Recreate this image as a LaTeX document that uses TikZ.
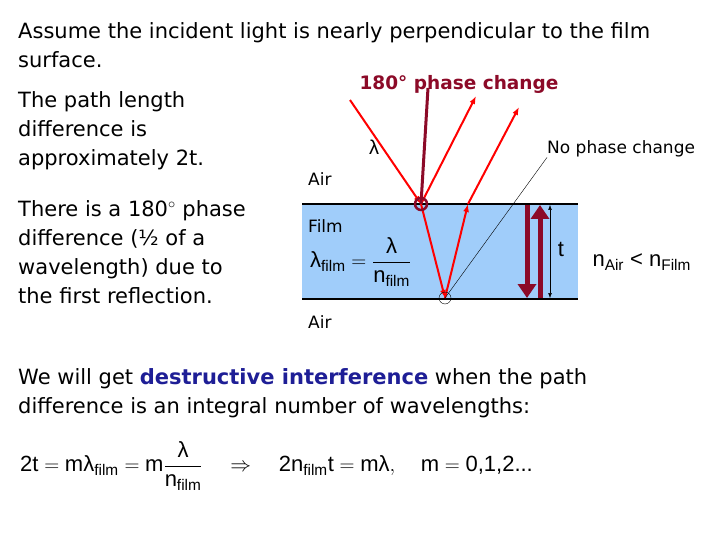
\documentclass[tikz,border=0pt]{standalone}
\usepackage{amsmath}
\usepackage{fontspec}
\setmainfont{DejaVu Sans}
\newfontfamily\arial{Liberation Sans}
\usetikzlibrary{arrows.meta}
\definecolor{dred}{RGB}{140,10,40}
\definecolor{film}{RGB}{160,205,250}
\definecolor{blue2}{RGB}{30,30,150}
\tikzset{txt/.style={anchor=north west,inner sep=0pt,font=\fontsize{21}{29}\selectfont,align=left},
small/.style={inner sep=0pt,font=\fontsize{17}{19}\selectfont},
ray/.style={red,line width=2pt},
dray/.style={dred,line width=3pt}}
\newcommand{\tx}[1]{\text{#1}}
\begin{document}
\begin{tikzpicture}[x=1pt,y=-1pt]
\useasboundingbox[fill=white] (0,0) rectangle (720,540);
\node[txt] (t1) at (18,22) {Assume the incident light is nearly perpendicular to the film\\surface.};
\node[txt] (t2) at (18,91) {The path length\\difference is\\approximately 2t.};
\node[txt] (t3) at (18,200) {There is a 180$^\circ$ phase\\difference (½ of a\\wavelength) due to\\the first reflection.};
\node[txt] (t4) at (18,368) {We will get \textbf{\color{blue2}destructive interference} when the path\\difference is an integral number of wavelengths:};
% film
\fill[film] (302,205) rectangle (578,298);
\draw[line width=2pt] (302,204) -- (578,204) (302,299) -- (578,299);
\node[small,anchor=west] (air1) at (308,179) {Air};
\node[small,anchor=west] (film) at (308,226) {Film};
\node[small,anchor=west] (air2) at (308,322) {Air};
\node[inner sep=0pt,anchor=west] (lf) at (310,262) {\arial\fontsize{22}{26}\selectfont $\tx{λ}_{\tx{film}}=\dfrac{\tx{λ}}{\tx{n}_{\tx{film}}}$};
\coordinate (A) at (421,204);
\coordinate (B) at (445,298);
\coordinate (C) at (468,204);
\coordinate (i0) at (350,100);
\coordinate (r1) at (476,96);
\coordinate (r2) at (519,107);
\coordinate (d0) at (428,88);
\draw[ray,-{Latex[length=8pt]}] (i0) -- (A);
\draw[ray,-{Latex[length=8pt]}] (A) -- (r1);
\draw[ray,-{Latex[length=8pt]}] (A) -- (B);
\draw[ray,-{Latex[length=8pt]}] (B) -- (C);
\draw[ray,-{Latex[length=8pt]}] (C) -- (r2);
\draw[dray] (d0) -- (A);
\draw[dred,line width=2.5pt] (A) circle (6);
\draw[thin] (B) circle (6);
\node[font=\arial\fontsize{20}{20}\selectfont] (lam) at (374,147) {λ};
\node[font=\bfseries\fontsize{18.5}{20}\selectfont,text=dred] (pc) at (459,84) {180° phase change};
\node[small,anchor=west] (npc) at (547,149) {No phase change};
\draw[thin] (npc.south west) -- (B);
\draw[dred,line width=5pt,-{Triangle[length=14pt,width=18pt]}] (527,205) -- (527,298);
\draw[dred,line width=5pt,-{Triangle[length=14pt,width=18pt]}] (540,298) -- (540,205);
\draw[thin,{Latex}-{Latex}] (550,205) -- (550,298);
\node[font=\arial\fontsize{22}{24}\selectfont] (t) at (561,249) {t};
\node[font=\arial\fontsize{22}{24}\selectfont,anchor=west] (ineq) at (589,262) {n$_{\tx{Air}}$ < n$_{\tx{Film}}$};
\node[anchor=west,inner sep=0pt] (eq) at (20,466) {\arial\fontsize{22}{26}\selectfont $\tx{2t}=\tx{mλ}_{\tx{film}}=\tx{m}\dfrac{\tx{λ}}{\tx{n}_{\tx{film}}}\quad\Rightarrow\quad \tx{2n}_{\tx{film}}\tx{t}=\tx{mλ},\quad \tx{m}=\tx{0,1,2...}$};
\end{tikzpicture}
\end{document}
